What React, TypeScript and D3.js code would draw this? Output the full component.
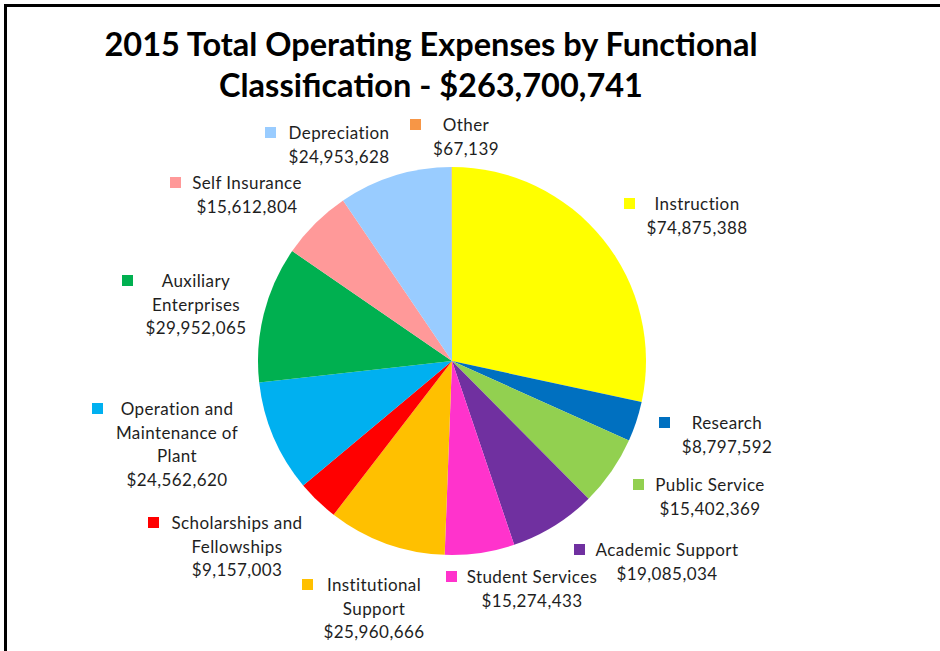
import React from "react";
import * as d3 from "d3";

const categories = [
  "Instruction",
  "Research",
  "Public Service",
  "Academic Support",
  "Student Services",
  "Institutional Support",
  "Scholarships and Fellowships",
  "Operation and Maintenance of Plant",
  "Auxiliary Enterprises",
  "Self Insurance",
  "Depreciation",
  "Other",
];
const values = [
  74875388, 8797592, 15402369, 19085034, 15274433, 25960666, 9157003, 24562620,
  29952065, 15612804, 24953628, 67139,
];
const labelLines = [
  ["Instruction"],
  ["Research"],
  ["Public Service"],
  ["Academic Support"],
  ["Student Services"],
  ["Institutional", "Support"],
  ["Scholarships and", "Fellowships"],
  ["Operation and", "Maintenance of", "Plant"],
  ["Auxiliary", "Enterprises"],
  ["Self Insurance"],
  ["Depreciation"],
  ["Other"],
];
const colors = [
  "#FFFF00", "#0070C0", "#92D050", "#7030A0", "#FF33CC", "#FFC000",
  "#FF0000", "#00B0F0", "#00B050", "#FF9999", "#99CCFF", "#F79646",
];
const titleLines = [
  "2015 Total Operating Expenses by Functional",
  "Classification - $263,700,741",
];

// label layout (text center x, first baseline y, legend-square left x)
const labelLayout = [
  { cx: 697, y: 210, sx: 624 },
  { cx: 727, y: 429, sx: 659 },
  { cx: 710, y: 491, sx: 633 },
  { cx: 667, y: 556, sx: 574 },
  { cx: 532, y: 583, sx: 446 },
  { cx: 374, y: 591, sx: 302 },
  { cx: 237, y: 529, sx: 148 },
  { cx: 177, y: 415, sx: 92 },
  { cx: 196, y: 287, sx: 122 },
  { cx: 247, y: 189, sx: 170 },
  { cx: 339, y: 139, sx: 265 },
  { cx: 466, y: 131, sx: 410 },
];

const W = 940;
const H = 651;
const CX = 452;
const CY = 361;
const R = 194;
const LH = 23.7;
const FONT = "Lato, 'Open Sans', sans-serif";

const fmt = (v: number) => "$" + d3.format(",")(v);

export default function App() {
  const data = categories.map((c, i) => ({ c, v: values[i], i }));
  const pie = d3
    .pie<any>()
    .sort(null)
    .value((d) => d.v)
    .startAngle(0)
    .endAngle(2 * Math.PI);
  const arcs = pie(data);
  const arc = d3.arc<any>().innerRadius(0).outerRadius(R);

  return (
    <svg
      width={W}
      height={H}
      style={{ position: "absolute", left: 0, top: 0, background: "#fff" }}
    >
      <rect x={0} y={0} width={W} height={H} fill="#fff" />
      <line x1={5.5} y1={4} x2={5.5} y2={H} stroke="#000" strokeWidth={3} />
      <line x1={4} y1={5.5} x2={W} y2={5.5} stroke="#000" strokeWidth={3} />
      {titleLines.map((t, i) => (
        <text
          key={i}
          x={431}
          y={56 + i * 41}
          textAnchor="middle"
          fontFamily={FONT}
          fontWeight="bold"
          fontSize={32.5}
          fill="#000"
        >
          {t}
        </text>
      ))}
      <g transform={`translate(${CX},${CY})`}>
        {arcs.map((a, i) => (
          <path key={i} d={arc(a) as string} fill={colors[i]} />
        ))}
      </g>
      {labelLayout.map((L, i) => {
        const lines = [...labelLines[i], fmt(values[i])];
        return (
          <g key={i}>
            <rect x={L.sx} y={L.y - 12} width={11} height={11} fill={colors[i]} />
            {lines.map((t, j) => (
              <text
                key={j}
                x={L.cx}
                y={L.y + j * LH}
                textAnchor="middle"
                fontFamily={FONT}
                fontSize={17}
                letterSpacing={0.4}
                fill="#1e1e1e"
              >
                {t}
              </text>
            ))}
          </g>
        );
      })}
    </svg>
  );
}
